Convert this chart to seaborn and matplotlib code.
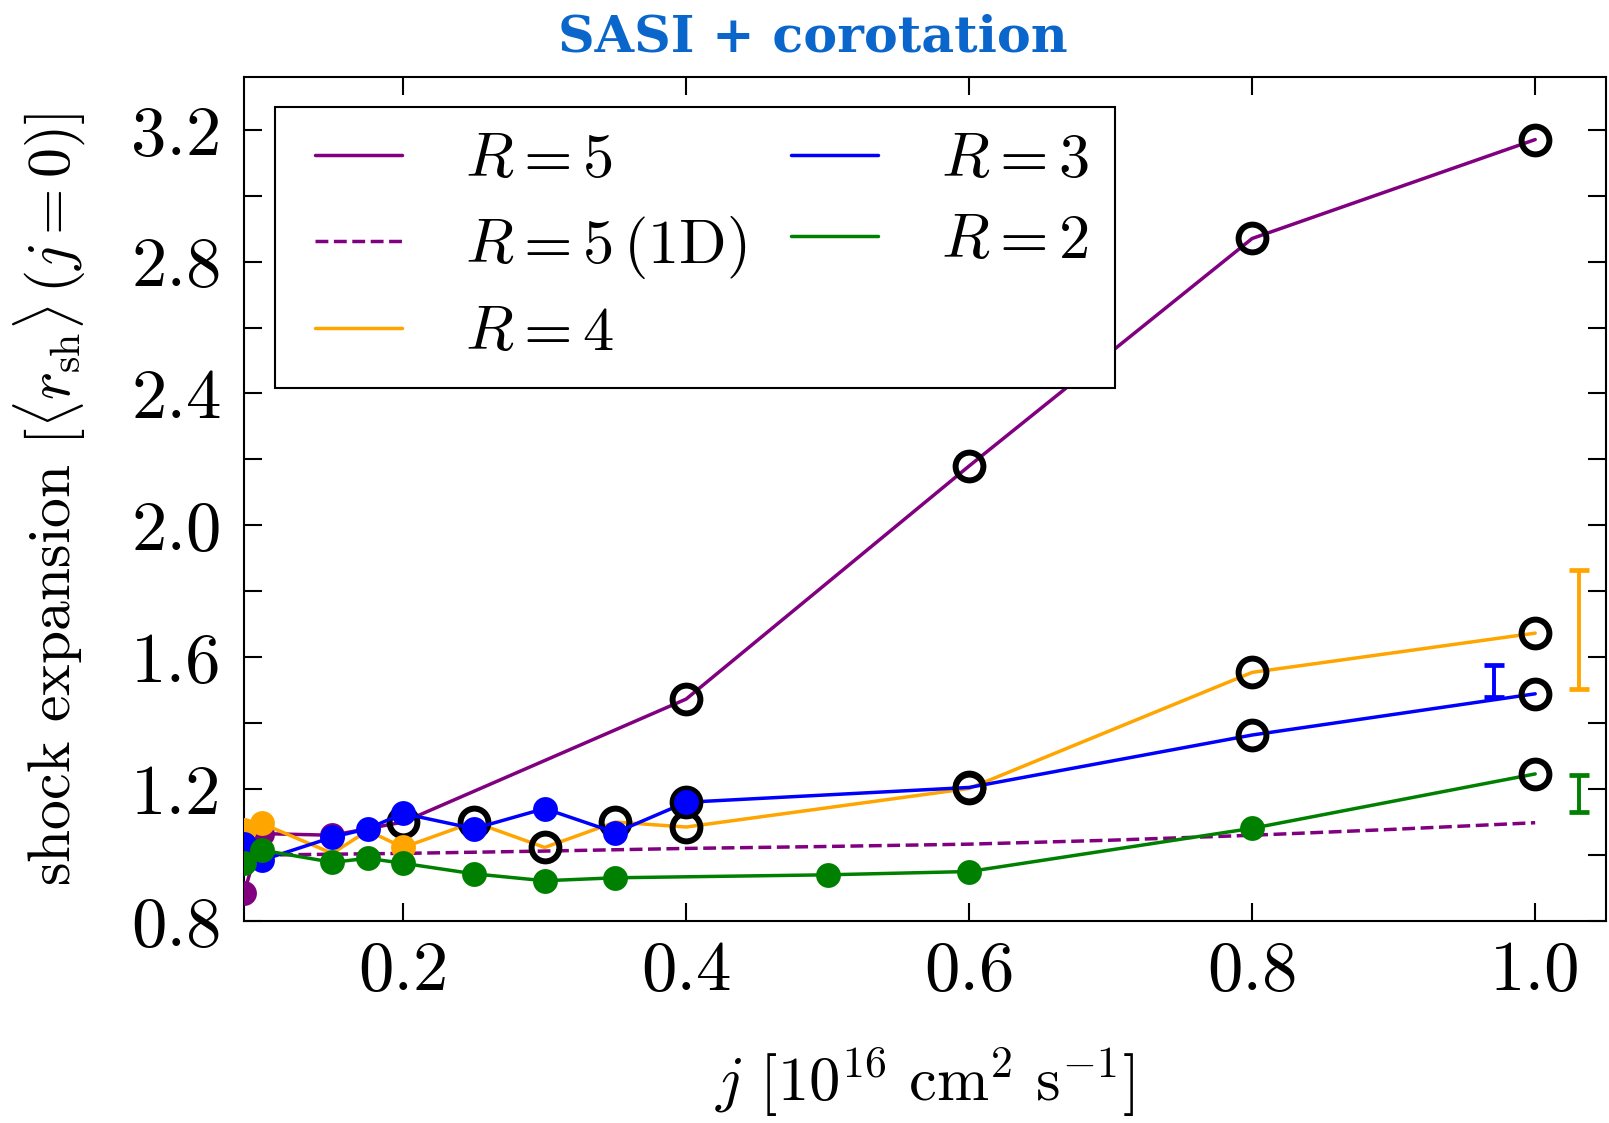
import numpy as np
import pandas as pd
import matplotlib
matplotlib.use("Agg")
import matplotlib.pyplot as plt
import seaborn as sns
from matplotlib.ticker import MultipleLocator, FixedLocator
from matplotlib.legend_handler import HandlerLine2D
from matplotlib.lines import Line2D

# ---------------- data ----------------
j_r5 = [0.0875, 0.1, 0.15, 0.2, 0.4, 0.6, 0.8, 1.0]
shock_r5 = [0.884, 1.065, 1.06, 1.10, 1.473, 2.18, 2.87, 3.17]
mark_r5 = ["f", "f", "f", "o", "o", "o", "o", "o"]

j_r5_1d = [0.1, 0.2, 0.3, 0.4, 0.5, 0.6, 0.7, 0.8, 0.9, 1.0]
shock_r5_1d = [1.0, 1.005, 1.012, 1.02, 1.026, 1.033, 1.045, 1.06, 1.078, 1.098]

j_r4 = [0.0875, 0.1, 0.15, 0.175, 0.2, 0.25, 0.3, 0.35, 0.4, 0.6, 0.8, 1.0]
shock_r4 = [1.075, 1.096, 1.005, 1.074, 1.023, 1.10, 1.023, 1.10, 1.085, 1.202, 1.554, 1.673]
mark_r4 = ["f", "f", "n", "n", "f", "o", "o", "o", "o", "o", "o", "o"]

j_r3 = [0.0875, 0.1, 0.15, 0.175, 0.2, 0.25, 0.3, 0.35, 0.4, 0.6, 0.8, 1.0]
shock_r3 = [1.034, 0.984, 1.054, 1.08, 1.126, 1.08, 1.141, 1.068, 1.16, 1.205, 1.364, 1.489]
mark_r3 = ["f", "f", "f", "f", "f", "f", "f", "f", "of", "o", "o", "o"]

j_r2 = [0.0875, 0.1, 0.15, 0.175, 0.2, 0.25, 0.3, 0.35, 0.5, 0.6, 0.8, 1.0]
shock_r2 = [0.975, 1.015, 0.978, 0.99, 0.975, 0.943, 0.922, 0.931, 0.940, 0.950, 1.081, 1.246]
mark_r2 = ["f", "f", "f", "f", "f", "f", "f", "f", "f", "f", "f", "o"]

# error-bar ranges shown at the right
err_names = ["R3", "R4", "R2"]
err_j = [0.971, 1.031, 1.031]
err_low = [1.48, 1.505, 1.129]
err_high = [1.576, 1.865, 1.243]
err_colors = ["blue", "orange", "green"]

legend_labels = [r"$R = 5$", r"$R = 5\,(1{\rm D})$", r"$R = 4$", r"$R = 3$", r"$R = 2$"]
x_ticks = [0.2, 0.4, 0.6, 0.8, 1.0]
y_ticks = [0.8, 1.2, 1.6, 2.0, 2.4, 2.8, 3.2]

# ---------------- style ----------------
sns.set_style("ticks")
plt.rcParams["font.family"] = "serif"
plt.rcParams["font.serif"] = ["cmr10", "DejaVu Serif"]
plt.rcParams["mathtext.fontset"] = "cm"
plt.rcParams["axes.formatter.use_mathtext"] = True
plt.rcParams["axes.unicode_minus"] = False
for key in ["text.color", "axes.labelcolor", "xtick.color", "ytick.color",
            "xtick.labelcolor", "ytick.labelcolor", "axes.edgecolor"]:
    plt.rcParams[key] = "black"

fig = plt.figure(figsize=(16.09, 11.23), dpi=100)
ax = fig.add_axes([0.1516, 0.1799, 0.8465, 0.7516])

LW = 2.5
RING_MS = 20
RING_MEW = 4.3
FILL_S = 320

series = [
    (j_r5, shock_r5, mark_r5, "purple", "-", legend_labels[0]),
    (j_r5_1d, shock_r5_1d, None, "purple", "--", legend_labels[1]),
    (j_r4, shock_r4, mark_r4, "orange", "-", legend_labels[2]),
    (j_r3, shock_r3, mark_r3, "blue", "-", legend_labels[3]),
    (j_r2, shock_r2, mark_r2, "green", "-", legend_labels[4]),
]

for i, (xs, ys, marks, col, ls, lab) in enumerate(series):
    df = pd.DataFrame({"j": xs, "shock": ys})
    sns.lineplot(data=df, x="j", y="shock", color=col, lw=LW, sort=False,
                 estimator=None, ax=ax, zorder=2 + i, label=lab,
                 linestyle=ls, dashes=(4, 2.6) if ls == "--" else "")
    if marks is None:
        continue
    df["m"] = marks
    rings = df[df["m"].str.contains("o")]
    fills = df[df["m"].str.contains("f")]
    ax.plot(rings["j"], rings["shock"], "o", ms=RING_MS, mfc="none", mec="black",
            mew=RING_MEW, zorder=2 + i + 0.3)
    if len(fills):
        sns.scatterplot(data=fills, x="j", y="shock", color=col, s=FILL_S,
                        linewidth=0, ax=ax, zorder=2 + i + 0.6, legend=False)

for xj, lo, hi, col in zip(err_j, err_low, err_high, err_colors):
    mid = 0.5 * (lo + hi)
    ax.errorbar([xj], [mid], yerr=[[mid - lo], [hi - mid]], fmt="none", ecolor=col,
                elinewidth=2.8, capsize=7, capthick=3.4, zorder=8)

ax.set_xlim(0.0875, 1.05)
ax.set_ylim(0.8, 3.36)
ax.xaxis.set_major_locator(FixedLocator(x_ticks))
ax.yaxis.set_major_locator(FixedLocator(y_ticks))
ax.yaxis.set_minor_locator(MultipleLocator(0.2))
ax.set_xticklabels([f"{v:.1f}" for v in x_ticks])
ax.set_yticklabels([f"{v:.1f}" for v in y_ticks])
ax.tick_params(which="both", direction="in", top=True, right=True,
               length=13, width=1.5, color="black")
ax.tick_params(axis="x", which="major", labelsize=51, pad=14)
ax.tick_params(axis="y", which="major", labelsize=51, pad=16)
for sp in ax.spines.values():
    sp.set_linewidth(1.5)
    sp.set_color("black")

ax.set_xlabel(r"$j\ [10^{16}\ {\rm cm}^2\ {\rm s}^{-1}]$", fontsize=45)
ax.set_ylabel(r"shock expansion $[\langle r_{\rm sh}\rangle\,(j=0)]$", fontsize=43)
ax.xaxis.set_label_coords(0.5, -0.148)
ax.yaxis.set_label_coords(-0.115, 0.5)

handles, labels = ax.get_legend_handles_labels()
leg = ax.legend(handles, labels, loc="upper left", bbox_to_anchor=(0.023, 0.964),
                borderaxespad=0, ncol=2, fontsize=45, frameon=True, fancybox=False,
                framealpha=1, edgecolor="black", handlelength=1.81, handletextpad=0.8,
                columnspacing=0.5, labelspacing=0.4, borderpad=0.42, numpoints=2,
                handler_map={Line2D: HandlerLine2D(marker_pad=0.21)})
leg.get_frame().set_linewidth(1.5)
for ln in leg.get_lines():
    ln.set_linewidth(LW)

fig.text(0.505, 0.966, "SASI + corotation", ha="center", va="center",
         fontsize=36.5, fontweight="bold", family="DejaVu Serif", color="#0B66CC")

fig.savefig("out.png", dpi=100)
